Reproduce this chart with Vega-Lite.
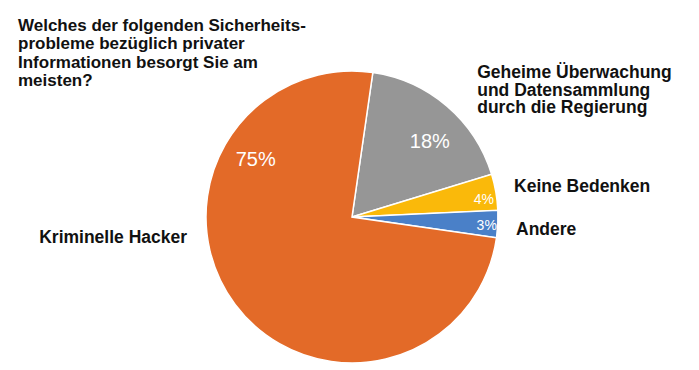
{
  "$schema": "https://vega.github.io/schema/vega-lite/v6.json",
  "autosize": {"type": "none"},
  "padding": {"left": 5, "top": 64, "right": 0, "bottom": 0},
  "width": 694,
  "height": 306,
  "background": "white",
  "config": {"view": {"stroke": null}, "font": "Liberation Sans"},
  "title": {
    "text": ["Welches der folgenden Sicherheits-", "probleme bezüglich privater", "Informationen besorgt Sie am", "meisten?"],
    "anchor": "start",
    "frame": "group",
    "offset": 0,
    "dx": 13,
    "dy": 26,
    "font": "Liberation Sans",
    "fontSize": 17,
    "fontWeight": "bold",
    "color": "#111111",
    "lineHeight": 18.5
  },
  "data": {
    "values": [
      {"category": "Geheime Überwachung und Datensammlung durch die Regierung", "label": "Geheime Überwachung|und Datensammlung|durch die Regierung", "value": 18, "pct": "18%", "ord": 1},
      {"category": "Keine Bedenken", "label": "Keine Bedenken", "value": 4, "pct": "4%", "ord": 2},
      {"category": "Andere", "label": "Andere", "value": 3, "pct": "3%", "ord": 3},
      {"category": "Kriminelle Hacker", "label": "Kriminelle Hacker", "value": 75, "pct": "75%", "ord": 4}
    ]
  },
  "encoding": {
    "theta": {"field": "value", "type": "quantitative", "stack": true, "scale": {"range": [0.1431, 6.4263]}},
    "order": {"field": "ord", "type": "ordinal"}
  },
  "layer": [
    {
      "mark": {"type": "arc", "radius": 146, "stroke": "#ffffff", "strokeWidth": 1.5},
      "encoding": {
        "color": {
          "field": "category", "type": "nominal", "legend": null,
          "scale": {
            "domain": ["Geheime Überwachung und Datensammlung durch die Regierung", "Keine Bedenken", "Andere", "Kriminelle Hacker"],
            "range": ["#969696", "#FAB90A", "#4A80C8", "#E36A28"]
          }
        }
      }
    },
    {
      "mark": {"type": "text", "radius": 108, "thetaOffset": 0.096, "fontSize": 20, "color": "#ffffff", "align": "center", "baseline": "middle"},
      "encoding": {"text": {"condition": {"test": "datum.ord === 1", "field": "pct", "type": "nominal"}, "value": ""}}
    },
    {
      "mark": {"type": "text", "radius": 112, "thetaOffset": 1.178, "fontSize": 20, "color": "#ffffff", "align": "center", "baseline": "middle"},
      "encoding": {"text": {"condition": {"test": "datum.ord === 4", "field": "pct", "type": "nominal"}, "value": ""}}
    },
    {
      "mark": {"type": "text", "radius": 133, "thetaOffset": 0.044, "fontSize": 14, "color": "#ffffff", "align": "center", "baseline": "middle"},
      "encoding": {"text": {"condition": {"test": "datum.ord === 2", "field": "pct", "type": "nominal"}, "value": ""}}
    },
    {
      "mark": {"type": "text", "radius": 135, "thetaOffset": 0.017, "fontSize": 14, "color": "#ffffff", "align": "center", "baseline": "middle"},
      "encoding": {"text": {"condition": {"test": "datum.ord === 3", "field": "pct", "type": "nominal"}, "value": ""}}
    },
    {
      "mark": {"type": "text", "radius": 187, "thetaOffset": 0.025, "fontSize": 17.5, "fontWeight": "bold", "color": "#111111", "align": "left", "baseline": "alphabetic", "lineBreak": "|", "lineHeight": 17.5},
      "encoding": {"text": {"condition": {"test": "datum.ord === 1", "field": "label", "type": "nominal"}, "value": ""}}
    },
    {
      "mark": {"type": "text", "radius": 164, "thetaOffset": 0.017, "fontSize": 17.5, "fontWeight": "bold", "color": "#111111", "align": "left", "baseline": "alphabetic"},
      "encoding": {"text": {"condition": {"test": "datum.ord === 2", "field": "label", "type": "nominal"}, "value": ""}}
    },
    {
      "mark": {"type": "text", "radius": 165, "thetaOffset": 0.061, "fontSize": 17.5, "fontWeight": "bold", "color": "#111111", "align": "left", "baseline": "alphabetic"},
      "encoding": {"text": {"condition": {"test": "datum.ord === 3", "field": "label", "type": "nominal"}, "value": ""}}
    },
    {
      "mark": {"type": "text", "radius": 167, "thetaOffset": 0.485, "fontSize": 17.5, "fontWeight": "bold", "color": "#111111", "align": "right", "baseline": "alphabetic"},
      "encoding": {"text": {"condition": {"test": "datum.ord === 4", "field": "label", "type": "nominal"}, "value": ""}}
    }
  ]
}
